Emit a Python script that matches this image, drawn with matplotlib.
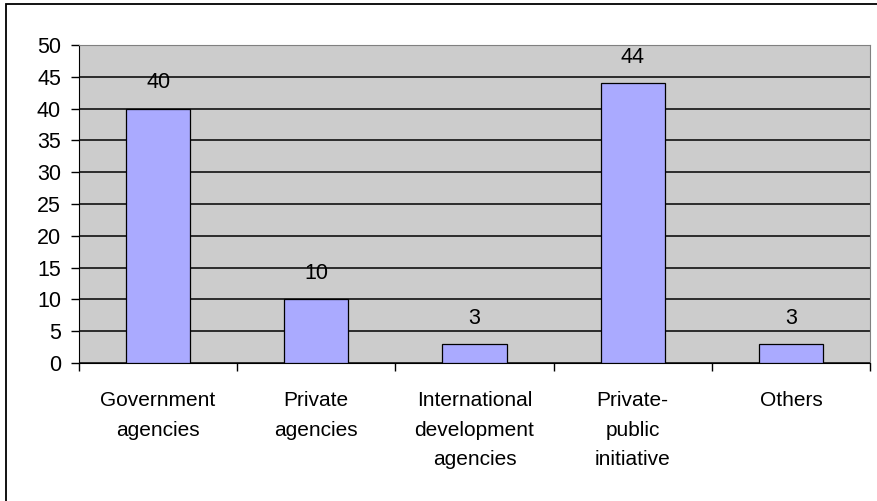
import matplotlib
matplotlib.use('Agg')
import matplotlib.pyplot as plt
import numpy as np
from matplotlib.patches import Rectangle

categories = ['Government\nagencies', 'Private\nagencies', 'International\ndevelopment\nagencies',
              'Private-\npublic\ninitiative', 'Others']
values = [40, 10, 3, 44, 3]

plt.rcParams['font.family'] = ['Liberation Sans', 'DejaVu Sans']

fig = plt.figure(figsize=(8.77, 5.01), dpi=100)
ax = fig.add_axes([0.0901, 0.2754, 0.9019, 0.6348])

x = np.arange(len(values))
ax.set_facecolor('#CCCCCC')
ax.set_axisbelow(True)
ax.yaxis.grid(True, color='black', linewidth=1.1)
ax.bar(x, values, width=0.405, color='#AAAAFF', edgecolor='black', linewidth=0.9, zorder=3)

for xi, v in zip(x, values):
    ax.annotate(str(v), (xi, v), xytext=(0, 11), textcoords='offset points',
                ha='center', va='bottom', fontsize=15.5, zorder=4)

ax.set_xlim(-0.5, len(values) - 0.5)
ax.set_ylim(0, 50)
ax.set_yticks(range(0, 51, 5))
ax.tick_params(axis='y', labelsize=15.5, length=6, width=1, direction='out', pad=7)

ax.set_xticks(x)
ax.set_xticklabels(categories, fontsize=15, linespacing=1.72)
ax.set_xticks(np.arange(-0.5, len(values), 1), minor=True)
ax.tick_params(axis='x', which='major', length=0, pad=20)
ax.tick_params(axis='x', which='minor', length=6, width=1, direction='out')

ax.spines['left'].set_color('black')
ax.spines['bottom'].set_color('black')
ax.spines['top'].set_color('#808080')
ax.spines['right'].set_color('#808080')

# outer chart frame (only left/top edges fall inside the image)
fig.patches.append(Rectangle((6 / 877, -10 / 501), 900 / 877, 507 / 501, transform=fig.transFigure,
                             fill=False, edgecolor='black', linewidth=1.3))

fig.savefig('out.png', dpi=100)
